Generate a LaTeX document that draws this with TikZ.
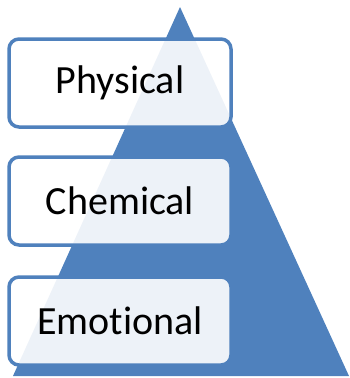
\documentclass[tikz,border=0pt]{standalone}
\usepackage{fontspec}
\setmainfont{Carlito}[Ligatures={NoCommon}]
\definecolor{pyr}{HTML}{4F81BD}
\begin{document}
\begin{tikzpicture}[x=1pt,y=-1pt,
  levelbox/.style={draw=pyr,line width=3.5pt,rounded corners=10pt,fill=white,fill opacity=0.9,text opacity=1,
    minimum width=222pt,minimum height=88pt,inner sep=0pt,font=\fontsize{40}{44}\selectfont,text=black}]
\useasboundingbox (0,0) rectangle (349,378);
\fill[pyr] (180,7) -- (349,376) -- (13,376) -- cycle;
\node[levelbox] (phys) at (120,83) {Physical};
\node[levelbox] (chem) at (120,201) {Chemical};
\node[levelbox] (emo) at (120,321) {Emotional};
\end{tikzpicture}
\end{document}
